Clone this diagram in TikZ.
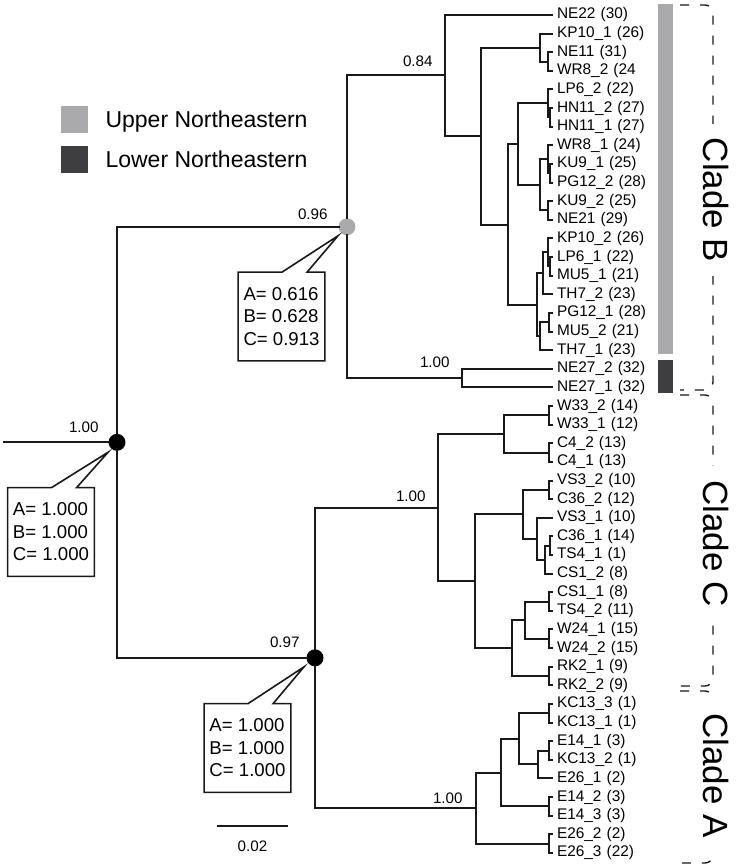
\documentclass[tikz,border=0pt]{standalone}
\usepackage{fontspec}
\setmainfont{Liberation Sans}
\usepackage{xcolor}
\usepackage{tikz}
\usetikzlibrary{chains, positioning}

\definecolor{uppergray}{RGB}{170,170,172}
\definecolor{lowergray}{RGB}{62,62,64}

\begin{document}
\begin{tikzpicture}[
  x=0.5pt, y=-0.5pt,
  start chain=going below,
  node distance=0pt,
  leaf/.style={
    on chain,
    text width=48pt,
    align=left,
    minimum height=9.31pt,
    text height=5.6pt,
    text depth=1.6pt,
    inner xsep=2.5pt,
    inner ysep=0pt,
    outer sep=0pt,
    font=\fontsize{7.7}{9}\selectfont
  },
  branch/.style={
    line width=1pt,
    line cap=rect,
    black!90
  },
  nodedot/.style={
    circle,
    minimum size=8.5pt,
    inner sep=0pt,
    outer sep=0pt
  },
  support/.style={
    inner sep=0pt,
    font=\fontsize{7.6}{9}\selectfont
  },
  stat/.style={
    align=left,
    minimum width=43pt,
    minimum height=44pt,
    inner sep=0pt,
    font=\fontsize{9.3}{11.25}\selectfont
  },
  calloutline/.style={
    line width=0.8pt,
    black!90
  },
  swatch/.style={
    minimum size=13.25pt,
    inner sep=0pt
  },
  keytext/.style={
    inner sep=0pt,
    text height=8.3pt,
    text depth=0pt,
    font=\fontsize{11.5}{14}\selectfont
  },
  cladebar/.style={
    minimum width=7.5pt,
    inner sep=0pt
  },
  bracket/.style={
    dash pattern=on 4.5pt off 5.5pt,
    line width=0.7pt,
    rounded corners=4pt,
    black!90
  },
  clade/.style={
    rotate=-90,
    fill=white,
    inner xsep=7pt,
    inner ysep=1pt,
    font=\fontsize{17.5}{21}\selectfont
  }
]

\useasboundingbox (0,0) rectangle (735,866);

% Legend
\node[swatch, fill=uppergray] (upperkey) at (74.5,119.5) {};
\node[swatch, fill=lowergray, below=6.25pt of upperkey] (lowerkey) {};
\node[keytext, right=8.5pt of upperkey] (uppertext) {Upper Northeastern};
\node[keytext, right=8.5pt of lowerkey] (lowertext) {Lower Northeastern};

% Leaves
\node[leaf, anchor=west] (NE22) at (552,15) {NE22 (30)};
\node[leaf] (KP10-1) {KP10\_1 (26)};
\node[leaf] (NE11) {NE11 (31)};
\node[leaf] (WR8-2) {WR8\_2 (24};
\node[leaf] (LP6-2) {LP6\_2 (22)};
\node[leaf] (HN11-2) {HN11\_2 (27)};
\node[leaf] (HN11-1) {HN11\_1 (27)};
\node[leaf] (WR8-1) {WR8\_1 (24)};
\node[leaf] (KU9-1) {KU9\_1 (25)};
\node[leaf] (PG12-2) {PG12\_2 (28)};
\node[leaf] (KU9-2) {KU9\_2 (25)};
\node[leaf] (NE21) {NE21 (29)};
\node[leaf] (KP10-2) {KP10\_2 (26)};
\node[leaf] (LP6-1) {LP6\_1 (22)};
\node[leaf] (MU5-1) {MU5\_1 (21)};
\node[leaf] (TH7-2) {TH7\_2 (23)};
\node[leaf] (PG12-1) {PG12\_1 (28)};
\node[leaf] (MU5-2) {MU5\_2 (21)};
\node[leaf] (TH7-1) {TH7\_1 (23)};
\node[leaf] (NE27-2) {NE27\_2 (32)};
\node[leaf] (NE27-1) {NE27\_1 (32)};
\node[leaf] (W33-2) {W33\_2 (14)};
\node[leaf] (W33-1) {W33\_1 (12)};
\node[leaf] (C4-2) {C4\_2 (13)};
\node[leaf] (C4-1) {C4\_1 (13)};
\node[leaf] (VS3-2) {VS3\_2 (10)};
\node[leaf] (C36-2) {C36\_2 (12)};
\node[leaf] (VS3-1) {VS3\_1 (10)};
\node[leaf] (C36-1) {C36\_1 (14)};
\node[leaf] (TS4-1) {TS4\_1 (1)};
\node[leaf] (CS1-2) {CS1\_2 (8)};
\node[leaf] (CS1-1) {CS1\_1 (8)};
\node[leaf] (TS4-2) {TS4\_2 (11)};
\node[leaf] (W24-1) {W24\_1 (15)};
\node[leaf] (W24-2) {W24\_2 (15)};
\node[leaf] (RK2-1) {RK2\_1 (9)};
\node[leaf] (RK2-2) {RK2\_2 (9)};
\node[leaf] (KC13-3) {KC13\_3 (1)};
\node[leaf] (KC13-1) {KC13\_1 (1)};
\node[leaf] (E14-1) {E14\_1 (3)};
\node[leaf] (KC13-2) {KC13\_2 (1)};
\node[leaf] (E26-1) {E26\_1 (2)};
\node[leaf] (E14-2) {E14\_2 (3)};
\node[leaf] (E14-3) {E14\_3 (3)};
\node[leaf] (E26-2) {E26\_2 (2)};
\node[leaf] (E26-3) {E26\_3 (22)};

% Supported nodes
\node[nodedot, fill=black] (root) at (117,442.3) {};
\node[nodedot, fill=uppergray] (gB) at (347,226.8) {};
\node[nodedot, fill=black] (n97) at (315,657.85) {};
\coordinate (rootin) at (4,442.3);

% Clade B joints
\coordinate (c84) at (445,75.5);
\coordinate (c27) at (462,378.1);
\coordinate (b1) at (481,136);
\coordinate (b2) at (540,47.6);
\coordinate (b3) at (548,61.55);
\coordinate (b4) at (508,224.5);
\coordinate (b5) at (518,144.2);
\coordinate (b6) at (548,103.45);
\coordinate (b7) at (550,117.4);
\coordinate (b8) at (540,184.9);
\coordinate (b9) at (548,159.3);
\coordinate (b10) at (550,173.3);
\coordinate (b11) at (548,210.5);
\coordinate (b12) at (537,304.8);
\coordinate (b13) at (543,273.35);
\coordinate (b14) at (548,252.4);
\coordinate (b15) at (550,266.4);
\coordinate (b16) at (540,336.2);
\coordinate (b17) at (549,322.2);

% Clade C joints
\coordinate (cC) at (438,507.6);
\coordinate (c1) at (549,415.3);
\coordinate (c2) at (549,452.6);
\coordinate (c3) at (504,434);
\coordinate (c4) at (549,489.8);
\coordinate (c5) at (550,545.7);
\coordinate (c6) at (545,559.65);
\coordinate (c7) at (537,538.7);
\coordinate (c8) at (523,514.25);
\coordinate (c9) at (549,601.5);
\coordinate (c10) at (549,638.8);
\coordinate (c11) at (525,620.15);
\coordinate (c12) at (549,676);
\coordinate (c13) at (512,648.1);
\coordinate (c14) at (475,581.2);

% Clade A joints
\coordinate (cA) at (476,808.1);
\coordinate (a1) at (549,713.25);
\coordinate (a2) at (549,750.5);
\coordinate (a3) at (538,764.45);
\coordinate (a4) at (519,738.85);
\coordinate (a5) at (549,806.35);
\coordinate (a6) at (501,772.6);
\coordinate (a7) at (549,843.6);

% Root branches
\draw[branch] (rootin) -- (root) (root) |- (gB) (root) |- (n97);

% Clade B branches
\draw[branch] (gB) |- (c84) (gB) |- (c27);
\draw[branch] (c84) |- (NE22.west) (c84) |- (b1);
\draw[branch] (c27) |- (NE27-2.west) (c27) |- (NE27-1.west);
\draw[branch] (b1) |- (b2) (b1) |- (b4);
\draw[branch] (b2) |- (KP10-1.west) (b2) |- (b3);
\draw[branch] (b3) |- (NE11.west) (b3) |- (WR8-2.west);
\draw[branch] (b4) |- (b5) (b4) |- (b12);
\draw[branch] (b5) |- (b6) (b5) |- (b8);
\draw[branch] (b6) |- (LP6-2.west) (b6) |- (b7);
\draw[branch] (b7) |- (HN11-2.west) (b7) |- (HN11-1.west);
\draw[branch] (b8) |- (b9) (b8) |- (b11);
\draw[branch] (b9) |- (WR8-1.west) (b9) |- (b10);
\draw[branch] (b10) |- (KU9-1.west) (b10) |- (PG12-2.west);
\draw[branch] (b11) |- (KU9-2.west) (b11) |- (NE21.west);
\draw[branch] (b12) |- (b13) (b12) |- (b16);
\draw[branch] (b13) |- (b14) (b13) |- (TH7-2.west);
\draw[branch] (b14) |- (KP10-2.west) (b14) |- (b15);
\draw[branch] (b15) |- (LP6-1.west) (b15) |- (MU5-1.west);
\draw[branch] (b16) |- (b17) (b16) |- (TH7-1.west);
\draw[branch] (b17) |- (PG12-1.west) (b17) |- (MU5-2.west);

% Clade C branches
\draw[branch] (n97) |- (cC) (n97) |- (cA);
\draw[branch] (cC) |- (c3) (cC) |- (c14);
\draw[branch] (c3) |- (c1) (c3) |- (c2);
\draw[branch] (c1) |- (W33-2.west) (c1) |- (W33-1.west);
\draw[branch] (c2) |- (C4-2.west) (c2) |- (C4-1.west);
\draw[branch] (c14) |- (c8) (c14) |- (c13);
\draw[branch] (c8) |- (c4) (c8) |- (c7);
\draw[branch] (c4) |- (VS3-2.west) (c4) |- (C36-2.west);
\draw[branch] (c7) |- (VS3-1.west) (c7) |- (c6);
\draw[branch] (c6) |- (c5) (c6) |- (CS1-2.west);
\draw[branch] (c5) |- (C36-1.west) (c5) |- (TS4-1.west);
\draw[branch] (c13) |- (c11) (c13) |- (c12);
\draw[branch] (c11) |- (c9) (c11) |- (c10);
\draw[branch] (c9) |- (CS1-1.west) (c9) |- (TS4-2.west);
\draw[branch] (c10) |- (W24-1.west) (c10) |- (W24-2.west);
\draw[branch] (c12) |- (RK2-1.west) (c12) |- (RK2-2.west);

% Clade A branches
\draw[branch] (cA) |- (a6) (cA) |- (a7);
\draw[branch] (a6) |- (a4) (a6) |- (a5);
\draw[branch] (a4) |- (a1) (a4) |- (a3);
\draw[branch] (a1) |- (KC13-3.west) (a1) |- (KC13-1.west);
\draw[branch] (a3) |- (a2) (a3) |- (E26-1.west);
\draw[branch] (a2) |- (E14-1.west) (a2) |- (KC13-2.west);
\draw[branch] (a5) |- (E14-2.west) (a5) |- (E14-3.west);
\draw[branch] (a7) |- (E26-2.west) (a7) |- (E26-3.west);

% Support values
\node[support, anchor=south east] (s96) at ([shift={(-19,-7)}]gB.center) {0.96};
\node[support, anchor=south east] (s84) at ([shift={(-12,-8.5)}]c84) {0.84};
\node[support, anchor=south east] (s27) at ([shift={(-12,-10)}]c27) {1.00};
\node[support, anchor=south east] (sroot) at ([shift={(-18,-9)}]root.center) {1.00};
\node[support, anchor=south east] (s97) at ([shift={(-15,-10)}]n97.center) {0.97};
\node[support, anchor=south east] (sC) at ([shift={(-12,-6)}]cC) {1.00};
\node[support, anchor=south east] (sA) at ([shift={(-13,-4)}]cA) {1.00};

% Callouts
\coordinate (roottip) at ([shift={(-9,10)}]root.center);
\coordinate (gBtip) at ([shift={(-9,9)}]gB.center);
\coordinate (n97tip) at ([shift={(-11,9)}]n97.center);
\node[stat] (rootstat) at (51,532) {A= 1.000\\B= 1.000\\C= 1.000};
\node[stat] (gBstat) at (281.5,316.5) {A= 0.616\\B= 0.628\\C= 0.913};
\node[stat] (n97stat) at (247.5,748) {A= 1.000\\B= 1.000\\C= 1.000};
\draw[calloutline] (rootstat.north west) -- ([xshift=22pt]rootstat.north west) -- (roottip)
  -- ([xshift=34.5pt]rootstat.north west) -- (rootstat.north east) -- (rootstat.south east)
  -- (rootstat.south west) -- cycle;
\draw[calloutline] (gBstat.north west) -- ([xshift=22pt]gBstat.north west) -- (gBtip)
  -- ([xshift=34.5pt]gBstat.north west) -- (gBstat.north east) -- (gBstat.south east)
  -- (gBstat.south west) -- cycle;
\draw[calloutline] (n97stat.north west) -- ([xshift=22pt]n97stat.north west) -- (n97tip)
  -- ([xshift=34.5pt]n97stat.north west) -- (n97stat.north east) -- (n97stat.south east)
  -- (n97stat.south west) -- cycle;

% Scale bar
\coordinate (scaleL) at (218,826);
\coordinate (scaleR) at (287,826);
\draw[branch] (scaleL) -- (scaleR) coordinate[midway] (scaleM);
\node[support, below=7pt of scaleM] (scalelabel) {0.02};

% Region bars
\node[cladebar, fill=uppergray, minimum height=175pt] (upperbar) at (665.5,179) {};
\node[cladebar, fill=lowergray, minimum height=16.5pt] (lowerbar) at (665.5,376.5) {};

% Clade brackets
\draw[bracket] (680,5) -- (713,5) -- (713,390) -- (680,390);
\draw[bracket] (680,395) -- (713,395) -- (713,686) -- (680,686);
\draw[bracket] (680,691) -- (713,691) -- (713,863) -- (680,863);
\node[clade] (cladeB) at (716,200) {Clade B};
\node[clade] (cladeC) at (716,543.5) {Clade C};
\node[clade] (cladeA) at (716,775.5) {Clade A};

\end{tikzpicture}
\end{document}
